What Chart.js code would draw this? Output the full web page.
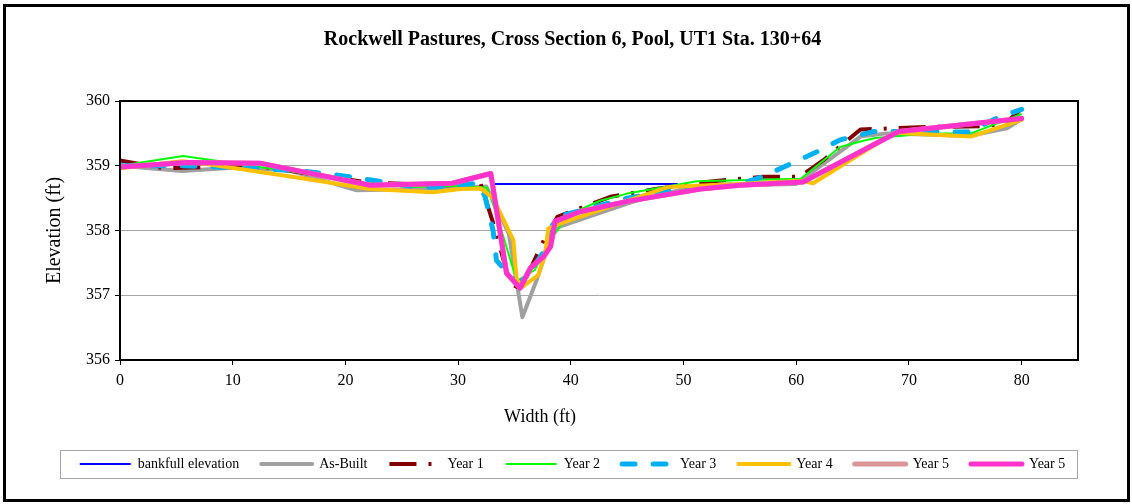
<!DOCTYPE html>
<html>
<head>
<meta charset="utf-8">
<script src="https://cdn.jsdelivr.net/npm/chart.js@4.4.0/dist/chart.umd.min.js"></script>
<style>
  html, body { margin: 0; padding: 0; background: #fff; }
</style>
</head>
<body>
<canvas id="xsec" width="1132" height="504"></canvas>
<script>
// cross section survey data, width (ft) vs elevation (ft)
const bankfullX = [32.9, 49.5];
const bankfullY = [358.72, 358.72];

const asBuiltX = [0, 5.5, 10, 15, 21, 27, 32.5, 34.5, 35.7, 37, 38.5, 40.5, 45.8, 51, 55, 60, 65.7, 68, 75.3, 78.7, 80];
const asBuiltY = [359.0, 358.92, 358.97, 358.93, 358.62, 358.64, 358.68, 357.95, 356.66, 357.25, 358.03, 358.15, 358.46, 358.68, 358.70, 358.72, 359.45, 359.50, 359.46, 359.58, 359.72];

const year1X = [0, 4, 12, 22, 29, 32, 33.1, 34.6, 35.2, 36.1, 37.6, 38.8, 43.5, 47.5, 52, 57, 60.3, 62.5, 65.7, 72, 76.5, 78.5, 80];
const year1Y = [359.08, 358.96, 359.0, 358.74, 358.7, 358.72, 358.12, 357.19, 357.13, 357.29, 357.85, 358.21, 358.52, 358.64, 358.75, 358.83, 358.83, 359.1, 359.56, 359.6, 359.61, 359.65, 359.88];

const year2X = [0, 5.6, 12.4, 16, 21, 25.7, 30.2, 32.6, 33.5, 35.2, 36.8, 38, 39.1, 40.8, 42.6, 45, 51.2, 60.4, 63.9, 65.6, 67, 72, 75.5, 80];
const year2Y = [359.0, 359.15, 358.98, 358.89, 358.75, 358.67, 358.69, 358.66, 358.2, 357.22, 357.39, 357.8, 358.08, 358.32, 358.46, 358.57, 358.76, 358.8, 359.29, 359.37, 359.43, 359.5, 359.5, 359.8];

const year3X = [0, 5.5, 11, 16, 20, 23, 26, 28, 31.8, 32.4, 33.1, 33.4, 34, 35.4, 36.1, 37.7, 38.5, 39.4, 45, 50, 55, 57, 61.9, 63.9, 66.9, 75.2, 78.1, 80];
const year3Y = [359.0, 359.0, 358.97, 358.92, 358.84, 358.76, 358.68, 358.67, 358.73, 358.52, 358.0, 357.54, 357.42, 357.19, 357.29, 357.7, 358.16, 358.24, 358.5, 358.65, 358.72, 358.83, 359.22, 359.4, 359.53, 359.52, 359.76, 359.87];

const year4X = [0, 5.5, 8, 16, 22.2, 27.8, 30.2, 32, 33.1, 34.9, 35.2, 35.7, 37.1, 37.7, 38, 39.1, 44, 48.6, 55, 60.4, 61.5, 68.7, 75.5, 80];
const year4Y = [358.96, 359.07, 359.02, 358.81, 358.64, 358.59, 358.64, 358.65, 358.5, 357.85, 357.24, 357.13, 357.31, 357.62, 358.03, 358.11, 358.4, 358.67, 358.72, 358.77, 358.73, 359.51, 359.45, 359.71];

// the rose "Year 5" series sits under the magenta one
const year5aX = [0, 6, 12.4, 22.2, 29.5, 32.9, 34.3, 35.5, 36.4, 37.6, 38.2, 38.6, 40.8, 45, 51.5, 55, 60.6, 69.1, 80];
const year5aY = [358.98, 359.05, 359.04, 358.7, 358.73, 358.88, 357.34, 357.11, 357.42, 357.6, 357.75, 358.14, 358.29, 358.45, 358.64, 358.7, 358.75, 359.53, 359.73];

const year5X = [0, 6, 12.4, 22.2, 29.5, 32.9, 34.3, 35.5, 36.4, 37.6, 38.2, 38.6, 40.8, 45, 51.5, 55, 60.6, 69.1, 80];
const year5Y = [358.98, 359.05, 359.04, 358.7, 358.73, 358.88, 357.34, 357.11, 357.42, 357.6, 357.75, 358.14, 358.29, 358.45, 358.64, 358.7, 358.75, 359.53, 359.73];

const xTicksStep = 10;
const yTicksStep = 1;

function pts(xs, ys) {
  return xs.map((x, i) => ({ x: x, y: ys[i] }));
}

const series = [
  { label: 'bankfull elevation', xs: bankfullX, ys: bankfullY, color: '#0000FF', width: 2, dash: [], cap: 'butt' },
  { label: 'As-Built', xs: asBuiltX, ys: asBuiltY, color: '#A0A0A0', width: 4, dash: [], cap: 'round' },
  { label: 'Year 1', xs: year1X, ys: year1Y, color: '#800000', width: 4, dash: [27, 12, 3, 12], cap: 'butt' },
  { label: 'Year 2', xs: year2X, ys: year2Y, color: '#00FF00', width: 2, dash: [], cap: 'butt' },
  { label: 'Year 3', xs: year3X, ys: year3Y, color: '#00B0F0', width: 5, dash: [13, 18], cap: 'round' },
  { label: 'Year 4', xs: year4X, ys: year4Y, color: '#FFC000', width: 4, dash: [], cap: 'round' },
  { label: 'Year 5', xs: year5aX, ys: year5aY, color: '#D99694', width: 5, dash: [], cap: 'round' },
  { label: 'Year 5', xs: year5X, ys: year5Y, color: '#FF33CC', width: 5, dash: [], cap: 'round' }
];

const datasets = series.map((s, i) => ({
  label: s.label,
  data: pts(s.xs, s.ys),
  borderColor: s.color,
  backgroundColor: s.color,
  borderWidth: s.width,
  borderDash: s.dash,
  borderCapStyle: s.cap,
  borderJoinStyle: 'round',
  pointRadius: 0,
  pointHoverRadius: 0,
  tension: 0,
  fill: false,
  order: series.length - i   // later series painted on top
}));

const serif = '"Liberation Serif", "Times New Roman", serif';

// extra drawing: plot frame, x title, legend box, outer frame
const decor = {
  id: 'decor',
  afterDraw(chart) {
    const ctx = chart.ctx;
    const a = chart.chartArea;
    ctx.save();
    ctx.strokeStyle = '#000';
    ctx.lineWidth = 2;
    ctx.strokeRect(a.left, a.top, a.right - a.left, a.bottom - a.top);

    ctx.fillStyle = '#000';
    ctx.font = '18px ' + serif;
    ctx.textAlign = 'center';
    ctx.textBaseline = 'middle';
    ctx.fillText('Width (ft)', 540, 417);

    const hb = chart.legend.legendHitBoxes;
    if (hb && hb.length) {
      const first = hb[0], last = hb[hb.length - 1];
      const cy = first.top + first.height / 2;
      const x0 = first.left - 20, x1 = last.left + last.width + 12;
      ctx.strokeStyle = '#A6A6A6';
      ctx.lineWidth = 1;
      ctx.strokeRect(Math.round(x0) + 0.5, Math.round(cy - 14) + 0.5, Math.round(x1 - x0), 28);
    }

    ctx.strokeStyle = '#000';
    ctx.lineWidth = 3;
    ctx.strokeRect(4.5, 5.5, 1124, 495);
    ctx.restore();
  }
};

new Chart(document.getElementById('xsec'), {
  type: 'line',
  data: { datasets: datasets },
  plugins: [decor],
  options: {
    responsive: false,
    animation: false,
    devicePixelRatio: 1,
    layout: { padding: { left: 23, right: 10, top: 0, bottom: 23 } },
    plugins: {
      tooltip: { enabled: false },
      title: {
        display: true,
        text: 'Rockwell Pastures, Cross Section 6, Pool, UT1 Sta. 130+64',
        color: '#000',
        font: { family: serif, size: 20, weight: 'bold' },
        padding: { top: 28, bottom: 49 }
      },
      legend: {
        position: 'bottom',
        align: 'center',
        labels: {
          usePointStyle: true,
          pointStyle: 'line',
          pointStyleWidth: 51,
          padding: 22,
          color: '#000',
          font: { family: serif, size: 14 },
          generateLabels(chart) {
            const items = Chart.defaults.plugins.legend.labels.generateLabels(chart);
            items.forEach(it => {
              const ds = chart.data.datasets[it.datasetIndex];
              it.lineDash = ds.borderDash;
              it.lineCap = ds.borderCapStyle;
              it.lineWidth = ds.borderWidth;
              it.strokeStyle = ds.borderColor;
              it.rotation = 180;
            });
            return items.sort((p, q) => p.datasetIndex - q.datasetIndex);
          }
        }
      }
    },
    scales: {
      x: {
        type: 'linear',
        min: 0,
        max: 85,
        afterBuildTicks(s) { s.ticks = s.ticks.filter(t => t.value % xTicksStep === 0); },
        afterFit(s) { s.height = 75; },
        ticks: { stepSize: xTicksStep, color: '#000', padding: 6, font: { family: serif, size: 16 } },
        grid: { drawOnChartArea: false, drawTicks: true, tickLength: 5, tickColor: '#000' },
        border: { color: '#000', width: 2 }
      },
      y: {
        type: 'linear',
        min: 356,
        max: 360,
        afterFit(s) { s.width = 97; },
        ticks: { stepSize: yTicksStep, color: '#000', padding: 5, font: { family: serif, size: 16 } },
        grid: { color: '#A6A6A6', lineWidth: 1, tickLength: 5, tickColor: '#000' },
        border: { color: '#000', width: 2 },
        title: {
          display: true,
          text: 'Elevation (ft)',
          color: '#000',
          font: { family: serif, size: 20 },
          padding: { top: 20, bottom: 0 }
        }
      },
      r: {
        type: 'linear',
        position: 'right',
        afterFit(s) { s.width = 44; },
        ticks: { display: false },
        grid: { display: false },
        border: { display: false }
      }
    }
  }
});
</script>
</body>
</html>
